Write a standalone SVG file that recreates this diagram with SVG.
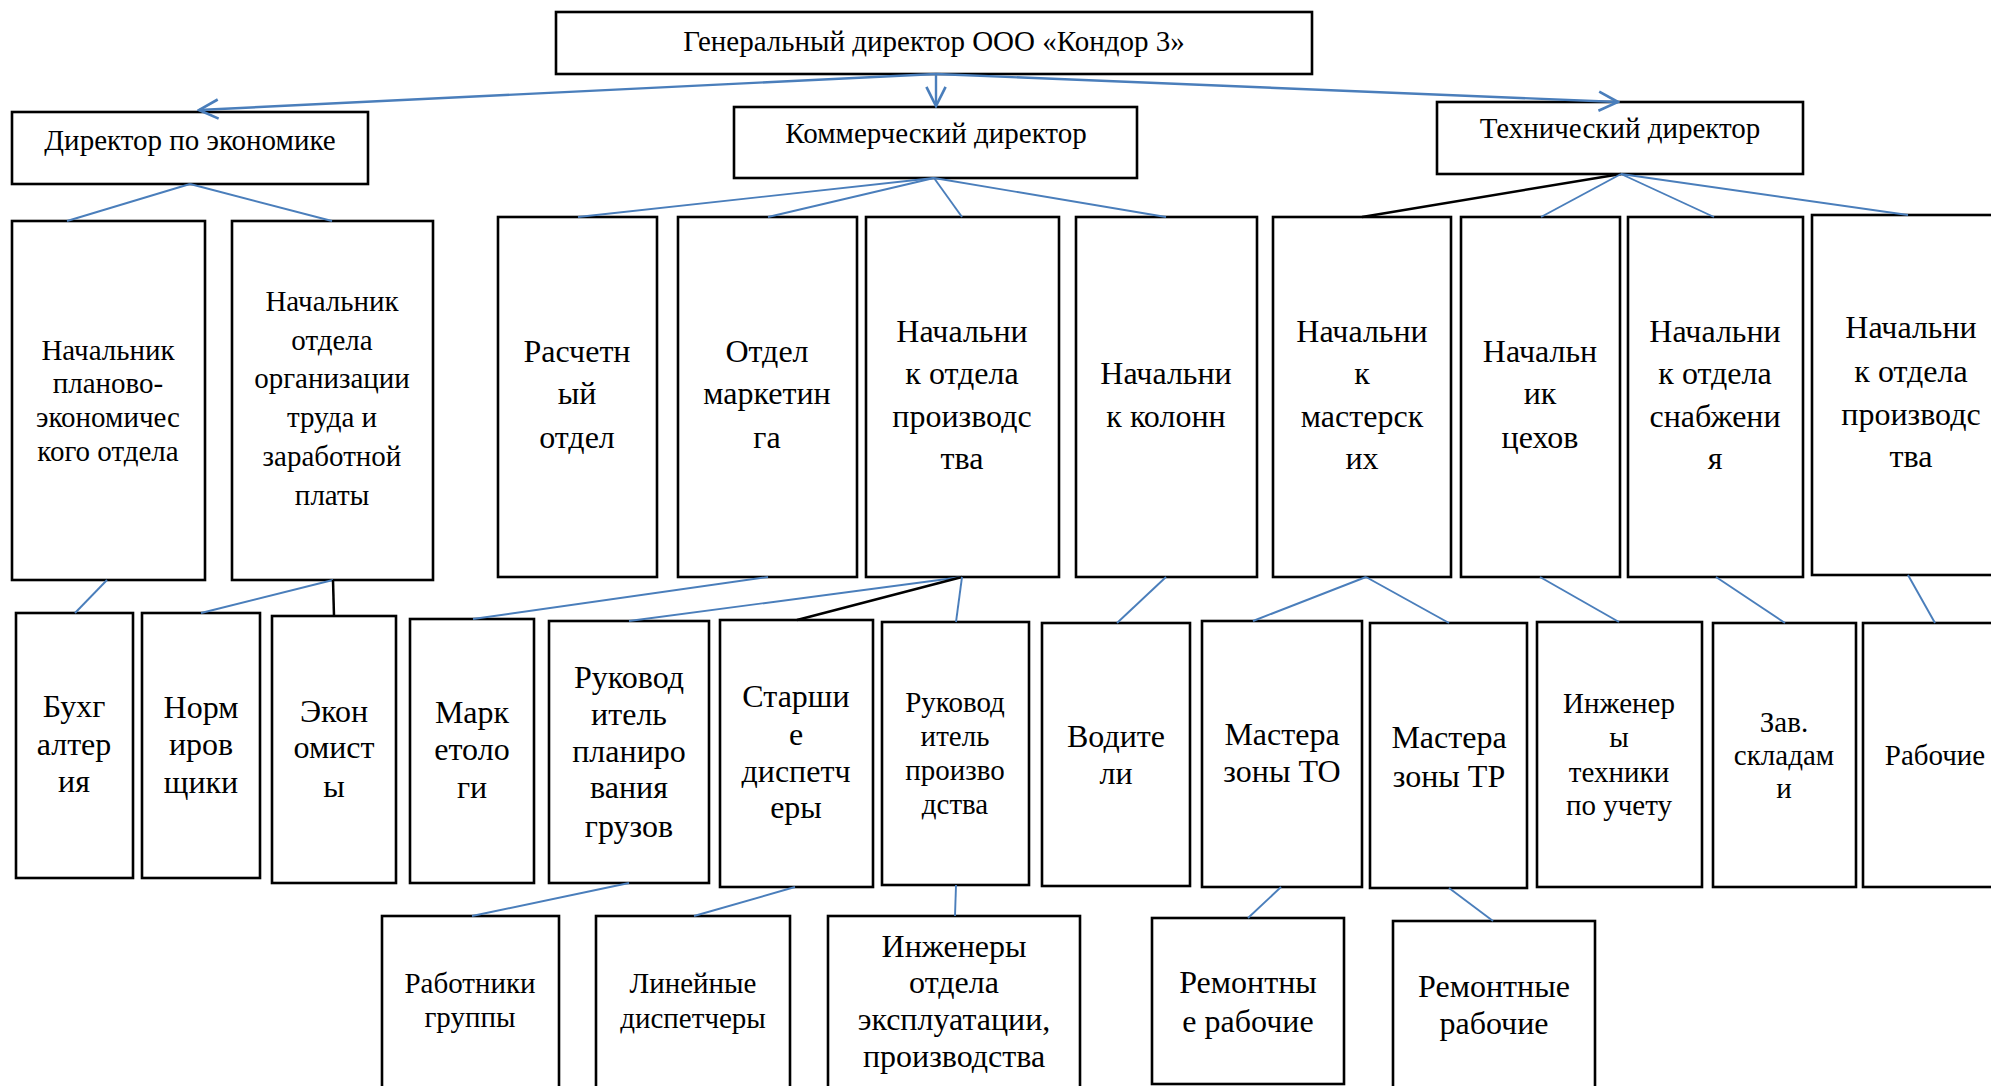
<svg xmlns="http://www.w3.org/2000/svg" width="1991" height="1086" viewBox="0 0 1991 1086">
<style>
.box{fill:#fff;stroke:#000;stroke-width:2.6}
text{font-family:"Liberation Serif","Times New Roman",serif;fill:#000;text-anchor:middle;font-size:32px}
.s{font-size:29px}
.b{stroke:#4a7ebb;stroke-width:1.9;fill:none}
.bt{stroke:#4a7ebb;stroke-width:2.4;fill:none}
.k{stroke:#000;stroke-width:2.5;fill:none}
</style>
<defs>
<marker id="arr" markerUnits="userSpaceOnUse" markerWidth="24" markerHeight="24" viewBox="0 0 20 20" refX="18" refY="10" orient="auto">
<path d="M2,2 L18,10 L2,18" fill="none" stroke="#4a7ebb" stroke-width="2.2"/>
</marker>
</defs>
<rect width="1991" height="1086" fill="#fff"/>
<g id="nodes">
<g id="gen"><rect class="box" x="556" y="12" width="756" height="62"/><text class="s" x="934" y="51">Генеральный директор ООО «Кондор 3»</text></g>
<g id="econ"><rect class="box" x="12" y="112" width="356" height="72"/><text class="s" x="190" y="150">Директор по экономике</text></g>
<g id="comm"><rect class="box" x="734" y="107" width="403" height="71"/><text class="s" x="936" y="143">Коммерческий директор</text></g>
<g id="tech"><rect class="box" x="1437" y="102" width="366" height="72"/><text class="s" x="1620" y="138">Технический директор</text></g>

<g id="n_plan"><rect class="box" x="12" y="221" width="193" height="359"/><text class="s" x="108"><tspan x="108" y="360">Начальник</tspan><tspan x="108" y="393">планово-</tspan><tspan x="108" y="427">экономичес</tspan><tspan x="108" y="461">кого отдела</tspan></text></g>
<g id="n_org"><rect class="box" x="232" y="221" width="201" height="359"/><text class="s" x="332"><tspan x="332" y="311">Начальник</tspan><tspan x="332" y="350">отдела</tspan><tspan x="332" y="388">организации</tspan><tspan x="332" y="427">труда и</tspan><tspan x="332" y="466">заработной</tspan><tspan x="332" y="505">платы</tspan></text></g>
<g id="rasch"><rect class="box" x="498" y="217" width="159" height="360"/><text x="577"><tspan x="577" y="362">Расчетн</tspan><tspan x="577" y="404">ый</tspan><tspan x="577" y="448">отдел</tspan></text></g>
<g id="market"><rect class="box" x="678" y="217" width="179" height="360"/><text x="767"><tspan x="767" y="362">Отдел</tspan><tspan x="767" y="404">маркетин</tspan><tspan x="767" y="448">га</tspan></text></g>
<g id="proizv1"><rect class="box" x="866" y="217" width="193" height="360"/><text x="962"><tspan x="962" y="342">Начальни</tspan><tspan x="962" y="384">к отдела</tspan><tspan x="962" y="427">производс</tspan><tspan x="962" y="469">тва</tspan></text></g>
<g id="kolonn"><rect class="box" x="1076" y="217" width="181" height="360"/><text x="1166"><tspan x="1166" y="384">Начальни</tspan><tspan x="1166" y="427">к колонн</tspan></text></g>
<g id="master"><rect class="box" x="1273" y="217" width="178" height="360"/><text x="1362"><tspan x="1362" y="342">Начальни</tspan><tspan x="1362" y="384">к</tspan><tspan x="1362" y="427">мастерск</tspan><tspan x="1362" y="469">их</tspan></text></g>
<g id="cehov"><rect class="box" x="1461" y="217" width="159" height="360"/><text x="1540"><tspan x="1540" y="362">Начальн</tspan><tspan x="1540" y="404">ик</tspan><tspan x="1540" y="448">цехов</tspan></text></g>
<g id="snab"><rect class="box" x="1628" y="217" width="175" height="360"/><text x="1715"><tspan x="1715" y="342">Начальни</tspan><tspan x="1715" y="384">к отдела</tspan><tspan x="1715" y="427">снабжени</tspan><tspan x="1715" y="469">я</tspan></text></g>
<g id="proizv2"><rect class="box" x="1812" y="215" width="198" height="360"/><text x="1911"><tspan x="1911" y="338">Начальни</tspan><tspan x="1911" y="382">к отдела</tspan><tspan x="1911" y="425">производс</tspan><tspan x="1911" y="467">тва</tspan></text></g>

<g id="buh"><rect class="box" x="16" y="613" width="117" height="265"/><text x="74"><tspan x="74" y="717">Бухг</tspan><tspan x="74" y="755">алтер</tspan><tspan x="74" y="792">ия</tspan></text></g>
<g id="norm"><rect class="box" x="142" y="613" width="118" height="265"/><text x="201"><tspan x="201" y="718">Норм</tspan><tspan x="201" y="755">иров</tspan><tspan x="201" y="793">щики</tspan></text></g>
<g id="ekon"><rect class="box" x="272" y="616" width="124" height="267"/><text x="334"><tspan x="334" y="722">Экон</tspan><tspan x="334" y="758">омист</tspan><tspan x="334" y="797">ы</tspan></text></g>
<g id="mark"><rect class="box" x="410" y="619" width="124" height="264"/><text x="472"><tspan x="472" y="723">Марк</tspan><tspan x="472" y="760">етоло</tspan><tspan x="472" y="798">ги</tspan></text></g>
<g id="rukplan"><rect class="box" x="549" y="621" width="160" height="262"/><text x="629"><tspan x="629" y="688">Руковод</tspan><tspan x="629" y="725">итель</tspan><tspan x="629" y="762">планиро</tspan><tspan x="629" y="798">вания</tspan><tspan x="629" y="837">грузов</tspan></text></g>
<g id="star"><rect class="box" x="720" y="620" width="153" height="267"/><text x="796"><tspan x="796" y="707">Старши</tspan><tspan x="796" y="745">е</tspan><tspan x="796" y="782">диспетч</tspan><tspan x="796" y="818">еры</tspan></text></g>
<g id="rukpr"><rect class="box" x="882" y="622" width="147" height="263"/><text class="s" x="955"><tspan x="955" y="712">Руковод</tspan><tspan x="955" y="746">итель</tspan><tspan x="955" y="780">произво</tspan><tspan x="955" y="814">дства</tspan></text></g>
<g id="vod"><rect class="box" x="1042" y="623" width="148" height="263"/><text x="1116"><tspan x="1116" y="747">Водите</tspan><tspan x="1116" y="784">ли</tspan></text></g>
<g id="masto"><rect class="box" x="1202" y="621" width="160" height="266"/><text x="1282"><tspan x="1282" y="745">Мастера</tspan><tspan x="1282" y="782">зоны ТО</tspan></text></g>
<g id="mastr"><rect class="box" x="1370" y="623" width="157" height="265"/><text x="1449"><tspan x="1449" y="748">Мастера</tspan><tspan x="1449" y="787">зоны ТР</tspan></text></g>
<g id="inzh"><rect class="box" x="1537" y="622" width="165" height="265"/><text class="s" x="1619"><tspan x="1619" y="713">Инженер</tspan><tspan x="1619" y="747">ы</tspan><tspan x="1619" y="782">техники</tspan><tspan x="1619" y="815">по учету</tspan></text></g>
<g id="zav"><rect class="box" x="1713" y="623" width="143" height="264"/><text class="s" x="1784"><tspan x="1784" y="732">Зав.</tspan><tspan x="1784" y="765">складам</tspan><tspan x="1784" y="798">и</tspan></text></g>
<g id="rab"><rect class="box" x="1863" y="623" width="144" height="264"/><text class="s" x="1935" y="765">Рабочие</text></g>

<g id="rabgr"><rect class="box" x="382" y="916" width="177" height="190"/><text class="s" x="470"><tspan x="470" y="993">Работники</tspan><tspan x="470" y="1027">группы</tspan></text></g>
<g id="lin"><rect class="box" x="596" y="916" width="194" height="190"/><text class="s" x="693"><tspan x="693" y="993">Линейные</tspan><tspan x="693" y="1028">диспетчеры</tspan></text></g>
<g id="inzhotd"><rect class="box" x="828" y="916" width="252" height="190"/><text x="954"><tspan x="954" y="957">Инженеры</tspan><tspan x="954" y="993">отдела</tspan><tspan x="954" y="1030">эксплуатации,</tspan><tspan x="954" y="1067">производства</tspan></text></g>
<g id="rem1"><rect class="box" x="1152" y="918" width="192" height="166"/><text x="1248"><tspan x="1248" y="993">Ремонтны</tspan><tspan x="1248" y="1032">е рабочие</tspan></text></g>
<g id="rem2"><rect class="box" x="1393" y="921" width="202" height="185"/><text x="1494"><tspan x="1494" y="997">Ремонтные</tspan><tspan x="1494" y="1034">рабочие</tspan></text></g>
</g>
<g id="connectors">
<line class="bt" x1="936" y1="74" x2="199" y2="110" marker-end="url(#arr)"/>
<line class="bt" x1="936" y1="74" x2="936" y2="106" marker-end="url(#arr)"/>
<line class="bt" x1="936" y1="74" x2="1618" y2="102" marker-end="url(#arr)"/>
<line class="b" x1="190" y1="184" x2="67" y2="221"/>
<line class="b" x1="190" y1="184" x2="332" y2="221"/>
<line class="b" x1="934" y1="178" x2="578" y2="217"/>
<line class="b" x1="934" y1="178" x2="768" y2="217"/>
<line class="b" x1="934" y1="178" x2="962" y2="217"/>
<line class="b" x1="934" y1="178" x2="1166" y2="217"/>
<line class="k" x1="1621" y1="174" x2="1362" y2="217"/>
<line class="b" x1="1621" y1="174" x2="1541" y2="217"/>
<line class="b" x1="1621" y1="174" x2="1714" y2="217"/>
<line class="b" x1="1621" y1="174" x2="1908" y2="215"/>
<line class="b" x1="107" y1="580" x2="75" y2="613"/>
<line class="b" x1="333" y1="580" x2="201" y2="613"/>
<line class="k" x1="333" y1="580" x2="334" y2="616"/>
<line class="b" x1="768" y1="577" x2="473" y2="619"/>
<line class="b" x1="962" y1="577" x2="629" y2="621"/>
<line class="k" x1="962" y1="577" x2="797" y2="620"/>
<line class="b" x1="962" y1="577" x2="956" y2="622"/>
<line class="b" x1="1166" y1="577" x2="1117" y2="623"/>
<line class="b" x1="1366" y1="577" x2="1253" y2="621"/>
<line class="b" x1="1366" y1="577" x2="1449" y2="623"/>
<line class="b" x1="1540" y1="577" x2="1619" y2="622"/>
<line class="b" x1="1716" y1="577" x2="1785" y2="623"/>
<line class="b" x1="1908" y1="575" x2="1935" y2="623"/>
<line class="b" x1="629" y1="883" x2="472" y2="916"/>
<line class="b" x1="795" y1="887" x2="694" y2="916"/>
<line class="b" x1="956" y1="885" x2="955" y2="916"/>
<line class="b" x1="1281" y1="887" x2="1248" y2="918"/>
<line class="b" x1="1449" y1="888" x2="1493" y2="921"/>
</g>
</svg>
